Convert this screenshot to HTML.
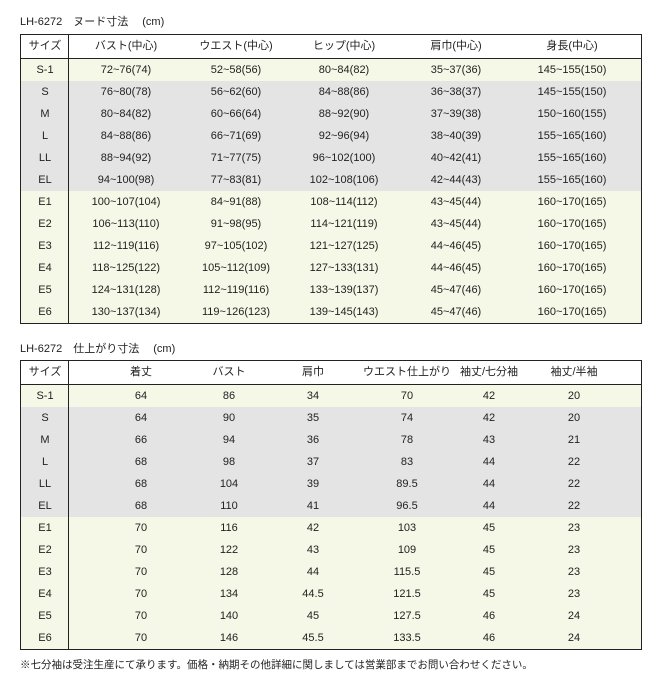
<!DOCTYPE html>
<html><head><meta charset="utf-8"><style>
body{margin:0;width:660px;height:685px;background:#fff;font-family:"Liberation Sans","Noto Sans CJK JP",sans-serif;font-size:11px;color:#222;position:relative;overflow:hidden}
.t{position:absolute;font-size:11px}
.tb{position:absolute;left:20px;width:620px;border:1px solid #222}
.tb:before{content:"";position:absolute;left:47px;top:0;bottom:0;width:1px;background:#222;z-index:2}
.r{position:relative;height:22px;line-height:22px}
.r.h{height:23px;line-height:23px;border-bottom:1px solid #222}
.r.g{background:#f5f8e7}
.r.x{background:#e4e4e4}
.r span{position:absolute;width:120px;margin-left:-60px;text-align:center;white-space:nowrap;top:0}
.a span:nth-child(1){left:24px}.a span:nth-child(2){left:105px}.a span:nth-child(3){left:215px}.a span:nth-child(4){left:323px}.a span:nth-child(5){left:435px}.a span:nth-child(6){left:551px}
.b span:nth-child(1){left:24px}.b span:nth-child(2){left:120px}.b span:nth-child(3){left:208px}.b span:nth-child(4){left:292px}.b span:nth-child(5){left:386px}.b span:nth-child(6){left:468px}.b span:nth-child(7){left:553px}
</style></head><body>
<div class="t" style="left:20px;top:13px">LH-6272　ヌード寸法　 (cm)</div>
<div class="tb a" style="top:34px">
<div class="r h"><span>サイズ</span><span>バスト(中心)</span><span>ウエスト(中心)</span><span>ヒップ(中心)</span><span>肩巾(中心)</span><span>身長(中心)</span></div>
<div class="r g"><span>S-1</span><span>72~76(74)</span><span>52~58(56)</span><span>80~84(82)</span><span>35~37(36)</span><span>145~155(150)</span></div>
<div class="r x"><span>S</span><span>76~80(78)</span><span>56~62(60)</span><span>84~88(86)</span><span>36~38(37)</span><span>145~155(150)</span></div>
<div class="r x"><span>M</span><span>80~84(82)</span><span>60~66(64)</span><span>88~92(90)</span><span>37~39(38)</span><span>150~160(155)</span></div>
<div class="r x"><span>L</span><span>84~88(86)</span><span>66~71(69)</span><span>92~96(94)</span><span>38~40(39)</span><span>155~165(160)</span></div>
<div class="r x"><span>LL</span><span>88~94(92)</span><span>71~77(75)</span><span>96~102(100)</span><span>40~42(41)</span><span>155~165(160)</span></div>
<div class="r x"><span>EL</span><span>94~100(98)</span><span>77~83(81)</span><span>102~108(106)</span><span>42~44(43)</span><span>155~165(160)</span></div>
<div class="r g"><span>E1</span><span>100~107(104)</span><span>84~91(88)</span><span>108~114(112)</span><span>43~45(44)</span><span>160~170(165)</span></div>
<div class="r g"><span>E2</span><span>106~113(110)</span><span>91~98(95)</span><span>114~121(119)</span><span>43~45(44)</span><span>160~170(165)</span></div>
<div class="r g"><span>E3</span><span>112~119(116)</span><span>97~105(102)</span><span>121~127(125)</span><span>44~46(45)</span><span>160~170(165)</span></div>
<div class="r g"><span>E4</span><span>118~125(122)</span><span>105~112(109)</span><span>127~133(131)</span><span>44~46(45)</span><span>160~170(165)</span></div>
<div class="r g"><span>E5</span><span>124~131(128)</span><span>112~119(116)</span><span>133~139(137)</span><span>45~47(46)</span><span>160~170(165)</span></div>
<div class="r g"><span>E6</span><span>130~137(134)</span><span>119~126(123)</span><span>139~145(143)</span><span>45~47(46)</span><span>160~170(165)</span></div>
</div>
<div class="t" style="left:20px;top:340px">LH-6272　仕上がり寸法　 (cm)</div>
<div class="tb b" style="top:360px">
<div class="r h"><span>サイズ</span><span>着丈</span><span>バスト</span><span>肩巾</span><span>ウエスト仕上がり</span><span>袖丈/七分袖</span><span>袖丈/半袖</span></div>
<div class="r g"><span>S-1</span><span>64</span><span>86</span><span>34</span><span>70</span><span>42</span><span>20</span></div>
<div class="r x"><span>S</span><span>64</span><span>90</span><span>35</span><span>74</span><span>42</span><span>20</span></div>
<div class="r x"><span>M</span><span>66</span><span>94</span><span>36</span><span>78</span><span>43</span><span>21</span></div>
<div class="r x"><span>L</span><span>68</span><span>98</span><span>37</span><span>83</span><span>44</span><span>22</span></div>
<div class="r x"><span>LL</span><span>68</span><span>104</span><span>39</span><span>89.5</span><span>44</span><span>22</span></div>
<div class="r x"><span>EL</span><span>68</span><span>110</span><span>41</span><span>96.5</span><span>44</span><span>22</span></div>
<div class="r g"><span>E1</span><span>70</span><span>116</span><span>42</span><span>103</span><span>45</span><span>23</span></div>
<div class="r g"><span>E2</span><span>70</span><span>122</span><span>43</span><span>109</span><span>45</span><span>23</span></div>
<div class="r g"><span>E3</span><span>70</span><span>128</span><span>44</span><span>115.5</span><span>45</span><span>23</span></div>
<div class="r g"><span>E4</span><span>70</span><span>134</span><span>44.5</span><span>121.5</span><span>45</span><span>23</span></div>
<div class="r g"><span>E5</span><span>70</span><span>140</span><span>45</span><span>127.5</span><span>46</span><span>24</span></div>
<div class="r g"><span>E6</span><span>70</span><span>146</span><span>45.5</span><span>133.5</span><span>46</span><span>24</span></div>
</div>
<div class="t" style="left:20px;top:657px;font-size:10.5px">※七分袖は受注生産にて承ります。価格・納期その他詳細に関しましては営業部までお問い合わせください。</div>
</body></html>
